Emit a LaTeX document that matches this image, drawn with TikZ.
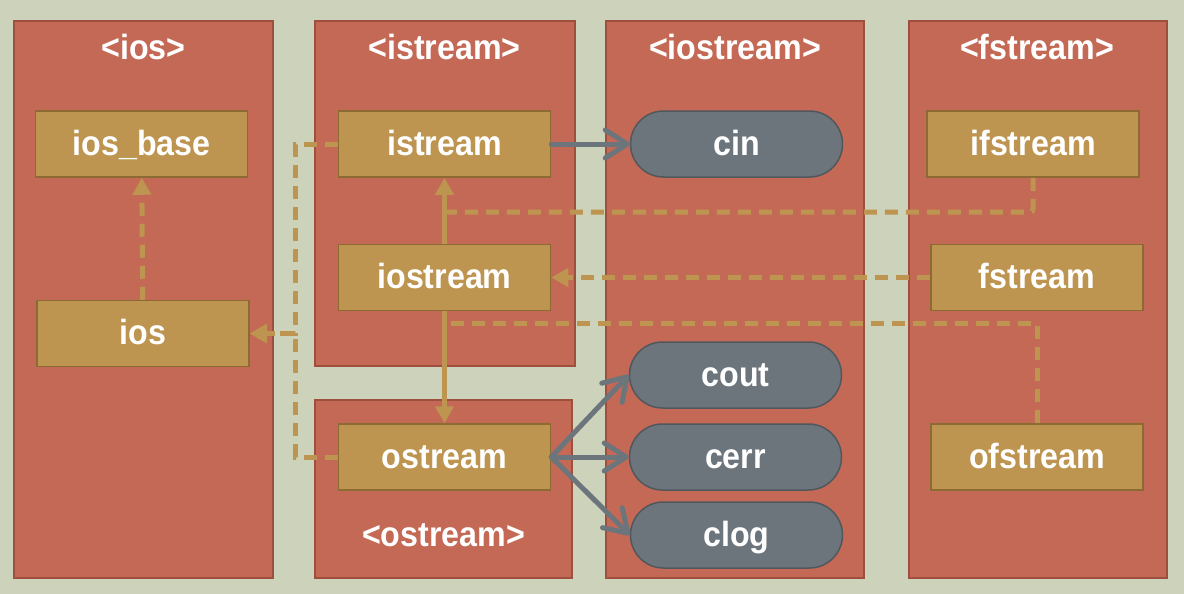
\documentclass[tikz,border=0pt]{standalone}
\usepackage{fontspec}
\setmainfont{Liberation Sans}[FakeStretch=0.92]
\usetikzlibrary{arrows.meta}
\definecolor{bg}{HTML}{CDD2BA}
\definecolor{panel}{HTML}{C46955}
\definecolor{panelborder}{HTML}{9E4F3D}
\definecolor{tan}{HTML}{BD9550}
\definecolor{tanborder}{HTML}{8C6B32}
\definecolor{pill}{HTML}{6D757C}
\definecolor{pillborder}{HTML}{50575D}
\tikzset{
  lbl/.style={text=white, font=\fontsize{35}{40}\selectfont\bfseries, inner sep=0pt},
  panelbox/.style={draw=panelborder, fill=panel, line width=1.5pt},
  classbox/.style={lbl, draw=tanborder, fill=tan, line width=1.5pt, minimum width=212pt, minimum height=66pt, text depth=0pt, text height=22pt},
  objbox/.style={lbl, draw=pillborder, fill=pill, line width=1.5pt, rounded corners=33pt, minimum width=212pt, minimum height=66pt, text depth=0pt, text height=22pt},
  hdr/.style={lbl},
  dep/.style={draw=tan, line width=5pt, dash pattern=on 13pt off 8pt},
  tip/.style={-{Triangle[length=17pt,width=18pt]}},
  inh/.style={draw=tan, line width=5pt, -{Triangle[length=17pt,width=18pt]}},
  obj/.style={draw=pill, line width=5pt, line cap=round, -{Straight Barb[length=22pt,width=28pt,line width=0pt 1,line cap=round,line join=round]}},
}
\begin{document}
\begin{tikzpicture}[x=1pt,y=-1pt]
\fill[bg] (0,0) rectangle (1184,594);
\useasboundingbox (0,0) rectangle (1184,594);
% panels
\draw[panelbox] (14,21) rectangle (273,578);
\draw[panelbox] (315,21) rectangle (575,366);
\draw[panelbox] (315,400) rectangle (572,578);
\draw[panelbox] (606,21) rectangle (864,578);
\draw[panelbox] (909,21) rectangle (1167,578);
% headers
\node[hdr] (hios) at (143.5,47) {<ios>};
\node[hdr] (histream) at (444.5,47) {<istream>};
\node[hdr] (hiostream) at (735,47) {<iostream>};
\node[hdr] (hfstream) at (1037,47) {<fstream>};
\node[hdr] (hostream) at (443.5,535) {<ostream>};
% class boxes
\node[classbox] (iosbase) at (141.5,144) {ios\_base};
\node[classbox] (ios) at (143,333.5) {ios};
\node[classbox] (istream) at (444.5,144) {istream};
\node[classbox] (iostream) at (444.5,277.5) {iostream};
\node[classbox] (ostream) at (444.5,457) {ostream};
\node[classbox] (ifstream) at (1033,144) {ifstream};
\node[classbox] (fstream) at (1037,277.5) {fstream};
\node[classbox] (ofstream) at (1037,457) {ofstream};
% objects
\node[objbox] (cin) at (736.5,144) {cin};
\node[objbox] (cout) at (735.5,375) {cout};
\node[objbox] (cerr) at (735.5,457) {cerr};
\node[objbox] (clog) at (736.5,535) {clog};
% junctions
\coordinate (j1) at (444.5,212);
\coordinate (j2) at (444.5,323);
% connectors
\draw[dep,tip] (ios) -- (iosbase);
\draw[dep,tip] (istream.west) -- ++(-42,0) |- (ios.east);
\draw[dep,tip] (ostream.west) -- ++(-42,0) |- (ios.east);
\draw[inh] (iostream) -- (istream);
\draw[inh] (iostream) -- (ostream);
\draw[dep,rounded corners=3pt] (ifstream.south) |- (j1);
\draw[dep,rounded corners=3pt] (ofstream.north) |- (j2);
\draw[dep,tip] (fstream) -- (iostream);
\draw[obj] (istream) -- (cin);
\draw[obj] (ostream.east) -- (cout.west);
\draw[obj] (ostream.east) -- (cerr.west);
\draw[obj] (ostream.east) -- (clog.west);
\end{tikzpicture}
\end{document}
